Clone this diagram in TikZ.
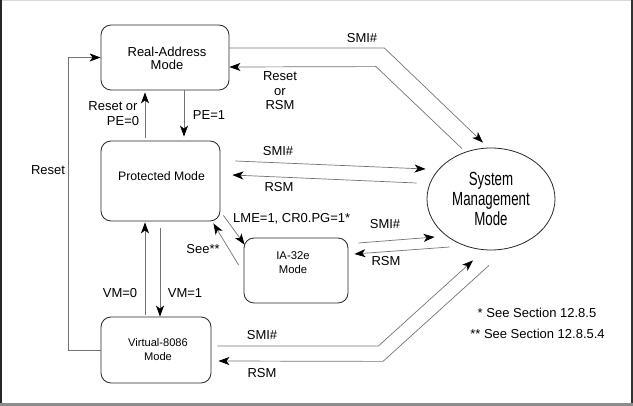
\documentclass[tikz,border=0pt]{standalone}
\usepackage{fontspec}
\setmainfont{Liberation Sans}
\newfontfamily\narrowfont[FakeStretch=0.7]{Liberation Sans}
\usetikzlibrary{arrows.meta,shapes.geometric}
\tikzset{
  modebox/.style={draw=black!85, line width=0.8pt, rounded corners=10pt, inner sep=0pt},
  boxtext/.style={align=center, inner sep=0pt},
  lbl/.style={align=center, inner sep=0pt, font=\fontsize{13}{14.5}\selectfont},
  conn/.style={draw=black!55, line width=0.7pt, -{Stealth[length=11pt,width=8pt,inset=3pt,color=black]}},
}
\begin{document}
\begin{tikzpicture}[x=1pt,y=-1pt]
\useasboundingbox (0,0) rectangle (633,406);
% frame
\fill[black!15] (0,0) rectangle (633,1.2);
\fill[black!85] (0,0) rectangle (1.5,406);
\fill[black!80] (631,0) rectangle (633,406);
\fill[black!45] (0,403) rectangle (633,406);

% boxes
\node[modebox, minimum width=128pt, minimum height=65pt] (real) at (165,57.5) {};
\node[boxtext, font=\fontsize{13}{13.5}\selectfont] (realt) at (167,58.5) {Real-Address\\Mode};
\node[modebox, minimum width=119pt, minimum height=80pt] (prot) at (160.5,181) {};
\node[boxtext, font=\fontsize{12.3}{13}\selectfont] (prott) at (161.5,176) {Protected Mode};
\node[modebox, minimum width=110pt, minimum height=66pt] (v86) at (156,350) {};
\node[boxtext, font=\fontsize{11.1}{14}\selectfont] (v86t) at (158,350) {Virtual-8086\\Mode};
\node[modebox, minimum width=104pt, minimum height=65pt] (ia) at (296,270.5) {};
\node[boxtext, font=\fontsize{11.3}{14}\selectfont] (iat) at (293,263) {IA-32e\\Mode};
\node[draw=black!85, line width=0.8pt, ellipse, minimum width=128pt, minimum height=102pt, inner sep=0pt,
      align=center, font=\narrowfont\fontsize{19}{20}\selectfont] (smm) at (491,199) {System\\Management\\Mode};

% vertical transitions
\draw[conn, shorten >=4pt] ([xshift=19pt]real.south) -- ([xshift=23.5pt]prot.north);
\draw[conn, shorten <=3pt, shorten >=2pt] ([xshift=-15.5pt]prot.north) -- ([xshift=-20pt]real.south);
\node[lbl] (l1) at (113,106) {Reset or};
\node[lbl] (l2) at (123,121) {PE=0};
\node[lbl] (l3) at (209,115) {PE=1};

\draw[conn, shorten <=2pt, shorten >=1pt] ([xshift=-11pt]v86.north) -- ([xshift=-15.5pt]prot.south);
\draw[conn, shorten <=7pt] ([xshift=-0.5pt]prot.south) -- ([xshift=4pt]v86.north);
\node[lbl] (l4) at (120,293) {VM=0};
\node[lbl] (l5) at (185,293) {VM=1};

% reset loop
\draw[conn] (v86.west) -- ++(-32,0) |- (real.west);
\node[lbl] (l6) at (48,170) {Reset};

% IA-32e
\draw[conn] ([xshift=3pt,yshift=6pt]prot.south east) -- ([xshift=1pt,yshift=-7pt]ia.north west);
\draw[conn] ([xshift=-5pt,yshift=5.5pt]ia.west) -- ([xshift=-7pt,yshift=-2pt]prot.south east);
\node[lbl, anchor=west] (l7) at (233,219) {LME=1, CR0.PG=1*};
\node[lbl] (l8) at (203,249) {See**};

% SMM transitions
\draw[conn] ([yshift=9.5pt]real.east) -- ++(155,0) -- ([xshift=-8pt,yshift=5pt]smm.north);
\node[lbl] (l9) at (362,38) {SMI\#};
\draw[conn] ([xshift=-29pt,yshift=-1pt]smm.north) -- ++(-86,-82) -- ([yshift=-9.5pt]real.east);
\node[lbl] (l10) at (280,91) {Reset\\or\\RSM};

\draw[conn] ([xshift=15pt,yshift=20pt]prot.east) -- ([xshift=-1pt,yshift=30pt]smm.west);
\node[lbl] (l11) at (278,151) {SMI\#};
\draw[conn] ([xshift=-10pt,yshift=16pt]smm.west) -- ([xshift=12pt,yshift=6pt]prot.east);
\node[lbl] (l12) at (279,187) {RSM};

\draw[conn] ([xshift=10pt,yshift=27.5pt]ia.east) -- ([xshift=8pt,yshift=-38pt]smm.west);
\node[lbl] (l13) at (385,224) {SMI\#};
\draw[conn] ([xshift=23pt,yshift=-48pt]smm.west) -- ([xshift=6pt,yshift=16.5pt]ia.east);
\node[lbl] (l14) at (386,261) {RSM};

\draw[conn] ([xshift=6pt,yshift=4pt]v86.east) -- ++(161,0) -- ([xshift=-18pt,yshift=-10pt]smm.south);
\node[lbl] (l15) at (262,335) {SMI\#};
\draw[conn] ([xshift=-2pt,yshift=-15pt]smm.south) -- ++(-106,96) -- ([xshift=7pt,yshift=-11pt]v86.east);
\node[lbl] (l16) at (262,373) {RSM};

% footnotes
\node[lbl] (f1) at (537,313) {* See Section 12.8.5};
\node[lbl] (f2) at (537.5,334) {** See Section 12.8.5.4};
\end{tikzpicture}
\end{document}
